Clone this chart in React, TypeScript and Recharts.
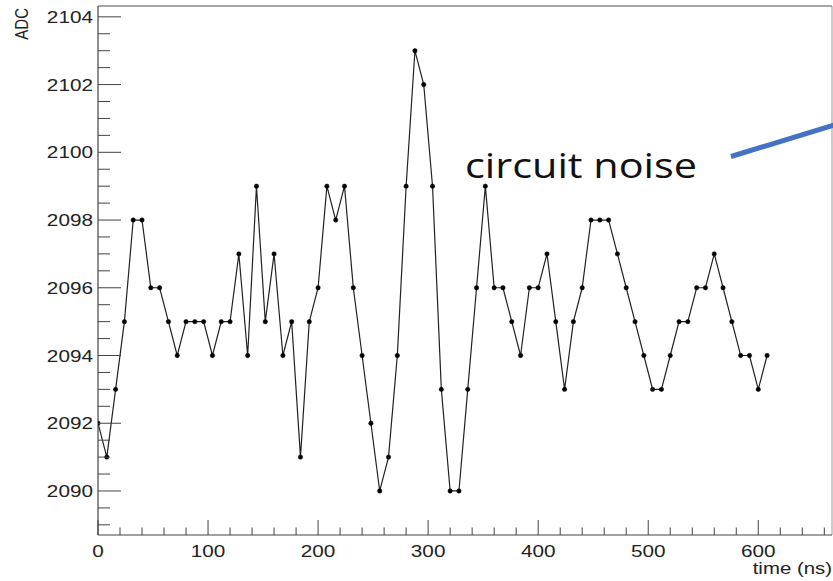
import React from 'react';
import { LineChart, Line, XAxis, YAxis, ReferenceLine } from 'recharts';

// sample times (ns) and ADC readings
const TIME_NS = [
  0, 8, 16, 24, 32, 40, 48, 56, 64, 72,
  80, 88, 96, 104, 112, 120, 128, 136, 144, 152,
  160, 168, 176, 184, 192, 200, 208, 216, 224, 232,
  240, 248, 256, 264, 272, 280, 288, 296, 304, 312,
  320, 328, 336, 344, 352, 360, 368, 376, 384, 392,
  400, 408, 416, 424, 432, 440, 448, 456, 464, 472,
  480, 488, 496, 504, 512, 520, 528, 536, 544, 552,
  560, 568, 576, 584, 592, 600, 608,
];

const ADC = [
  2092, 2091, 2093, 2095, 2098, 2098, 2096, 2096, 2095, 2094,
  2095, 2095, 2095, 2094, 2095, 2095, 2097, 2094, 2099, 2095,
  2097, 2094, 2095, 2091, 2095, 2096, 2099, 2098, 2099, 2096,
  2094, 2092, 2090, 2091, 2094, 2099, 2103, 2102, 2099, 2093,
  2090, 2090, 2093, 2096, 2099, 2096, 2096, 2095, 2094, 2096,
  2096, 2097, 2095, 2093, 2095, 2096, 2098, 2098, 2098, 2097,
  2096, 2095, 2094, 2093, 2093, 2094, 2095, 2095, 2096, 2096,
  2097, 2096, 2095, 2094, 2094, 2093, 2094,
];

const X_DOMAIN = [0, 667];
const Y_DOMAIN = [2088.7, 2104.32];

// major labels + minor tick steps
const X_MAJOR = [0, 100, 200, 300, 400, 500, 600];
const Y_MAJOR = [2090, 2092, 2094, 2096, 2098, 2100, 2102, 2104];

const xTicks: number[] = [];
for (let v = 0; v <= 660; v += 20) xTicks.push(v);
const yTicks: number[] = [];
for (let i = 0; i <= 30; i++) yTicks.push(2089 + i * 0.5);

const data = TIME_NS.map((t, i) => ({ t, adc: ADC[i] }));

const AXIS = '#444';
const FONT = '"Liberation Sans", Arial, sans-serif';

function XTick(props: any) {
  const { x, y, payload } = props;
  const major = X_MAJOR.includes(payload.value);
  return (
    <g>
      <line x1={x} x2={x} y1={y} y2={y - (major ? 15 : 7.5)} stroke={AXIS} strokeWidth={1} />
      {major && (
        <text
          transform={`translate(${x},${y + 22}) scale(1.22,1)`}
          textAnchor="middle"
          fontFamily={FONT}
          fontSize={17}
          fill="#222"
        >
          {payload.value}
        </text>
      )}
    </g>
  );
}

function YTick(props: any) {
  const { x, y, payload } = props;
  const major = Y_MAJOR.includes(payload.value);
  return (
    <g>
      <line x1={x} x2={x + (major ? 23 : 12)} y1={y} y2={y} stroke={AXIS} strokeWidth={1} />
      {major && (
        <text
          transform={`translate(${x - 5},${y + 6}) scale(1.22,1)`}
          textAnchor="end"
          fontFamily={FONT}
          fontSize={17}
          fill="#222"
        >
          {payload.value}
        </text>
      )}
    </g>
  );
}

function XTitle(props: any) {
  const { x, y, width } = props.viewBox;
  return (
    <text
      transform={`translate(${x + width},${y + 39}) scale(1.2,1)`}
      textAnchor="end"
      fontFamily={FONT}
      fontSize={17}
      fill="#222"
    >
      time (ns)
    </text>
  );
}

function YTitle(props: any) {
  const { y } = props.viewBox;
  return (
    <text
      transform={`translate(28,${y + 2}) rotate(-90) scale(1,1.22)`}
      textAnchor="end"
      fontFamily={FONT}
      fontSize={15}
      fill="#222"
    >
      ADC
    </text>
  );
}

export default function App() {
  return (
    <div style={{ position: 'absolute', left: 0, top: 0, width: 833, height: 581, background: '#fff' }}>
      <LineChart width={833} height={581} data={data} margin={{ top: 6, right: 1, bottom: 0, left: 0 }}>
        <XAxis
          dataKey="t"
          type="number"
          domain={X_DOMAIN}
          allowDataOverflow
          ticks={xTicks}
          interval={0}
          tickSize={0}
          tickMargin={0}
          tickLine={false}
          tick={<XTick />}
          height={46}
          axisLine={{ stroke: AXIS, strokeWidth: 1.2 }}
          label={<XTitle />}
        />
        <YAxis
          type="number"
          domain={Y_DOMAIN}
          allowDataOverflow
          ticks={yTicks}
          interval={0}
          tickSize={0}
          tickMargin={0}
          tickLine={false}
          tick={<YTick />}
          width={98}
          axisLine={{ stroke: AXIS, strokeWidth: 1.2 }}
          label={<YTitle />}
        />
        <ReferenceLine y={Y_DOMAIN[1]} stroke="#888" strokeWidth={1.5} />
        <ReferenceLine x={X_DOMAIN[1]} stroke="#999" strokeWidth={1} />
        <Line
          type="linear"
          dataKey="adc"
          stroke="#222"
          strokeWidth={1.2}
          dot={{ r: 2.2, fill: '#000', stroke: '#000', strokeWidth: 0.5 }}
          isAnimationActive={false}
        />
      </LineChart>
      <svg
        width={833}
        height={581}
        style={{ position: 'absolute', left: 0, top: 0, pointerEvents: 'none' }}
      >
        <text
          x={465}
          y={178}
          fontFamily='"Open Sans", "Noto Sans", sans-serif'
          fontSize={35}
          textLength={232}
          lengthAdjust="spacingAndGlyphs"
          fill="#111"
        >
          circuit noise
        </text>
        <line x1={731} y1={156.5} x2={834} y2={125} stroke="#4472C4" strokeWidth={5} />
      </svg>
    </div>
  );
}
